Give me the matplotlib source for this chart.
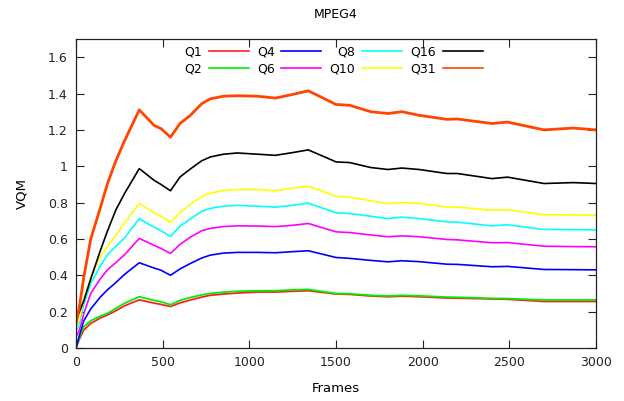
import matplotlib
matplotlib.use("Agg")
import matplotlib.pyplot as plt
from matplotlib.ticker import FuncFormatter

frames = [0, 20, 45, 85, 140, 180, 230, 280, 365, 450, 490, 545, 600, 660, 725, 775, 850, 930,
          1050, 1150, 1250, 1340, 1500, 1580, 1700, 1800, 1880, 1980, 2140, 2200, 2400, 2490,
          2700, 2870, 3000]

q1 = [0.0, 0.05, 0.099, 0.135, 0.165, 0.181, 0.205, 0.232, 0.265, 0.247, 0.24, 0.228, 0.248,
      0.264, 0.28, 0.29, 0.297, 0.302, 0.308, 0.308, 0.312, 0.315, 0.297, 0.295, 0.286, 0.282,
      0.285, 0.282, 0.275, 0.274, 0.27, 0.268, 0.256, 0.256, 0.256]
q2 = [0.0, 0.06, 0.117, 0.15, 0.175, 0.19, 0.218, 0.246, 0.282, 0.262, 0.255, 0.238, 0.262,
      0.278, 0.292, 0.30, 0.307, 0.312, 0.315, 0.315, 0.32, 0.322, 0.30, 0.298, 0.29, 0.286,
      0.29, 0.287, 0.28, 0.279, 0.273, 0.272, 0.264, 0.264, 0.264]
q4 = [0.0, 0.07, 0.15, 0.215, 0.28, 0.319, 0.36, 0.405, 0.469, 0.44, 0.428, 0.40, 0.435,
      0.465, 0.495, 0.511, 0.522, 0.526, 0.526, 0.524, 0.53, 0.535, 0.498, 0.493, 0.482, 0.474,
      0.48, 0.475, 0.461, 0.46, 0.447, 0.449, 0.432, 0.431, 0.43]
q6 = [0.06, 0.10, 0.19, 0.30, 0.38, 0.429, 0.47, 0.513, 0.603, 0.565, 0.548, 0.52, 0.57,
      0.61, 0.645, 0.658, 0.668, 0.672, 0.671, 0.668, 0.675, 0.685, 0.639, 0.635, 0.622, 0.612,
      0.617, 0.612, 0.597, 0.595, 0.579, 0.58, 0.56, 0.558, 0.557]
q8 = [0.09, 0.14, 0.24, 0.355, 0.45, 0.511, 0.56, 0.606, 0.711, 0.665, 0.645, 0.614, 0.67,
      0.71, 0.752, 0.768, 0.78, 0.785, 0.78, 0.775, 0.785, 0.797, 0.744, 0.74, 0.725, 0.712,
      0.72, 0.712, 0.694, 0.692, 0.672, 0.678, 0.652, 0.651, 0.65]
q10 = [0.11, 0.16, 0.27, 0.39, 0.50, 0.556, 0.62, 0.69, 0.795, 0.745, 0.725, 0.69, 0.745,
       0.79, 0.835, 0.852, 0.866, 0.872, 0.872, 0.865, 0.88, 0.89, 0.835, 0.83, 0.81, 0.795,
       0.80, 0.795, 0.776, 0.775, 0.758, 0.76, 0.733, 0.732, 0.731]
q16 = [0.154, 0.20, 0.26, 0.38, 0.535, 0.64, 0.76, 0.85, 0.987, 0.923, 0.90, 0.865, 0.941,
       0.985, 1.03, 1.051, 1.066, 1.073, 1.066, 1.06, 1.075, 1.09, 1.024, 1.02, 0.993, 0.982,
       0.99, 0.982, 0.96, 0.96, 0.932, 0.94, 0.905, 0.91, 0.905]
q31 = [0.136, 0.23, 0.39, 0.60, 0.77, 0.90, 1.03, 1.14, 1.31, 1.225, 1.207, 1.16, 1.235,
       1.28, 1.344, 1.371, 1.385, 1.388, 1.385, 1.375, 1.395, 1.415, 1.34, 1.335, 1.30, 1.29,
       1.30, 1.28, 1.258, 1.26, 1.235, 1.243, 1.20, 1.21, 1.20]

labels = ["Q1", "Q2", "Q4", "Q6", "Q8", "Q10", "Q16", "Q31"]
series = [q1, q2, q4, q6, q8, q10, q16, q31]
colors = ["#ff2020", "#00ee00", "#0000ff", "#ff00ff", "#00ffff", "#ffff00", "#000000", "#ff4500"]
widths = [1.3, 1.3, 1.2, 1.2, 1.2, 1.2, 1.2, 2.0]

fig = plt.figure(figsize=(6.24, 4.01), dpi=100)
ax = fig.add_axes([76 / 624, 1 - 348 / 401, 520 / 624, 309 / 401])

for lab, ys, c, w in zip(labels, series, colors, widths):
    ax.plot(frames, ys, color=c, lw=w, label=lab)

ax.set_xlim(0, 3000)
ax.set_ylim(0, 1.7)
ax.set_xticks([0, 500, 1000, 1500, 2000, 2500, 3000])
ax.set_yticks([0, 0.2, 0.4, 0.6, 0.8, 1.0, 1.2, 1.4, 1.6])
ax.yaxis.set_major_formatter(FuncFormatter(lambda v, p: "%g" % round(v, 2)))
ax.tick_params(direction="in", top=True, right=True, length=6, width=0.8,
               labelsize=9, colors="#222222", pad=6)
for s in ax.spines.values():
    s.set_linewidth(0.9)
    s.set_color("#222222")

ax.set_title("MPEG4", fontsize=9, pad=15)
ax.set_xlabel("Frames", fontsize=9.5, labelpad=9)
ax.set_ylabel("VQM", fontsize=9.5, labelpad=14)

leg = ax.legend(ncol=4, loc="upper center", bbox_to_anchor=(0.495, 1.016), frameon=False,
                markerfirst=False, fontsize=9, handlelength=3.2, columnspacing=0.65,
                handletextpad=0.55, labelspacing=0.3)
for l in leg.get_lines():
    l.set_linewidth(1.2)

fig.savefig("out.png", dpi=100)
